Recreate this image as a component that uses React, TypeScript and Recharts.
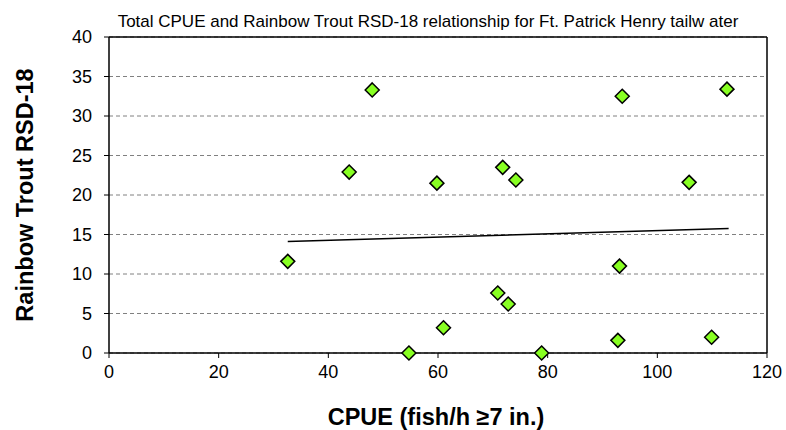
import React from "react";
import {
  ScatterChart,
  Scatter,
  XAxis,
  YAxis,
  CartesianGrid,
  ReferenceLine,
} from "recharts";

const cpue = [32.6, 43.8, 48.0, 54.7, 59.8, 61.0, 70.9, 71.8, 72.8, 74.2, 78.9, 92.8, 93.1, 93.6, 105.8, 109.9, 112.7];
const rsd18 = [11.6, 22.9, 33.3, 0, 21.5, 3.2, 7.6, 23.5, 6.2, 21.9, 0, 1.6, 11.0, 32.5, 21.6, 2.0, 33.4];

// trendline end points
const trendX = [32.6, 113];
const trendY = [14.1, 15.75];

const xTicks = [0, 20, 40, 60, 80, 100, 120];
const yTicks = [0, 5, 10, 15, 20, 25, 30, 35, 40];

const points = cpue.map((x, i) => ({ x, y: rsd18[i] }));
const trend = trendX.map((x, i) => ({ x, y: trendY[i] }));

const FONT = '"Liberation Sans", Arial, sans-serif';

const Diamond = (props: any) => {
  const { cx, cy } = props;
  if (cx == null || cy == null) return <g />;
  const r = 7;
  return (
    <polygon
      points={`${cx},${cy - r} ${cx + r},${cy} ${cx},${cy + r} ${cx - r},${cy}`}
      fill="#88ff22"
      stroke="#000"
      strokeWidth={1.5}
    />
  );
};

const Nothing = () => <g />;

export default function App() {
  const W = 786;
  const H = 430;
  return (
    <div style={{ position: "absolute", left: 0, top: 0, width: W, height: H, background: "#fff" }}>
      <ScatterChart
        width={W}
        height={H}
        margin={{ top: 37, right: 19, bottom: 37, left: 49 }}
        style={{ fontFamily: FONT }}
      >
        <CartesianGrid vertical={false} stroke="#808080" strokeDasharray="4 3" />
        <XAxis
          type="number"
          dataKey="x"
          domain={[0, 120]}
          ticks={xTicks}
          height={40}
          tickSize={5}
          tickMargin={7}
          axisLine={{ stroke: "#000", strokeWidth: 1.5 }}
          tickLine={{ stroke: "#000" }}
          tick={{ fill: "#000", fontSize: 18, fontFamily: FONT }}
          interval={0}
        />
        <YAxis
          type="number"
          dataKey="y"
          domain={[0, 40]}
          ticks={yTicks}
          width={60}
          tickSize={5}
          tickMargin={12}
          axisLine={{ stroke: "#000", strokeWidth: 1.5 }}
          tickLine={{ stroke: "#000" }}
          tick={{ fill: "#000", fontSize: 18, fontFamily: FONT }}
          interval={0}
        />
        <ReferenceLine y={40} stroke="#000" strokeWidth={1.5} />
        <ReferenceLine x={120} stroke="#000" strokeWidth={1.5} />
        <Scatter
          data={trend}
          line={{ stroke: "#000", strokeWidth: 1.5 }}
          shape={<Nothing />}
          isAnimationActive={false}
        />
        <Scatter data={points} shape={<Diamond />} isAnimationActive={false} />
      </ScatterChart>
      <svg
        width={W}
        height={H}
        style={{ position: "absolute", left: 0, top: 0, pointerEvents: "none" }}
      >
        <text x={428} y={27} textAnchor="middle" fontSize={17} fontFamily={FONT} fill="#000">
          Total CPUE  and Rainbow Trout RSD-18 relationship for Ft. Patrick Henry tailw ater
        </text>
        <text x={436} y={425} textAnchor="middle" fontSize={23.5} fontWeight="bold" fontFamily={FONT} fill="#000">
          CPUE (fish/h ≥7 in.)
        </text>
        <text
          x={33}
          y={195}
          textAnchor="middle"
          fontSize={23.5}
          fontWeight="bold"
          fontFamily={FONT}
          fill="#000"
          transform="rotate(-90 33 195)"
        >
          Rainbow Trout RSD-18
        </text>
      </svg>
    </div>
  );
}
